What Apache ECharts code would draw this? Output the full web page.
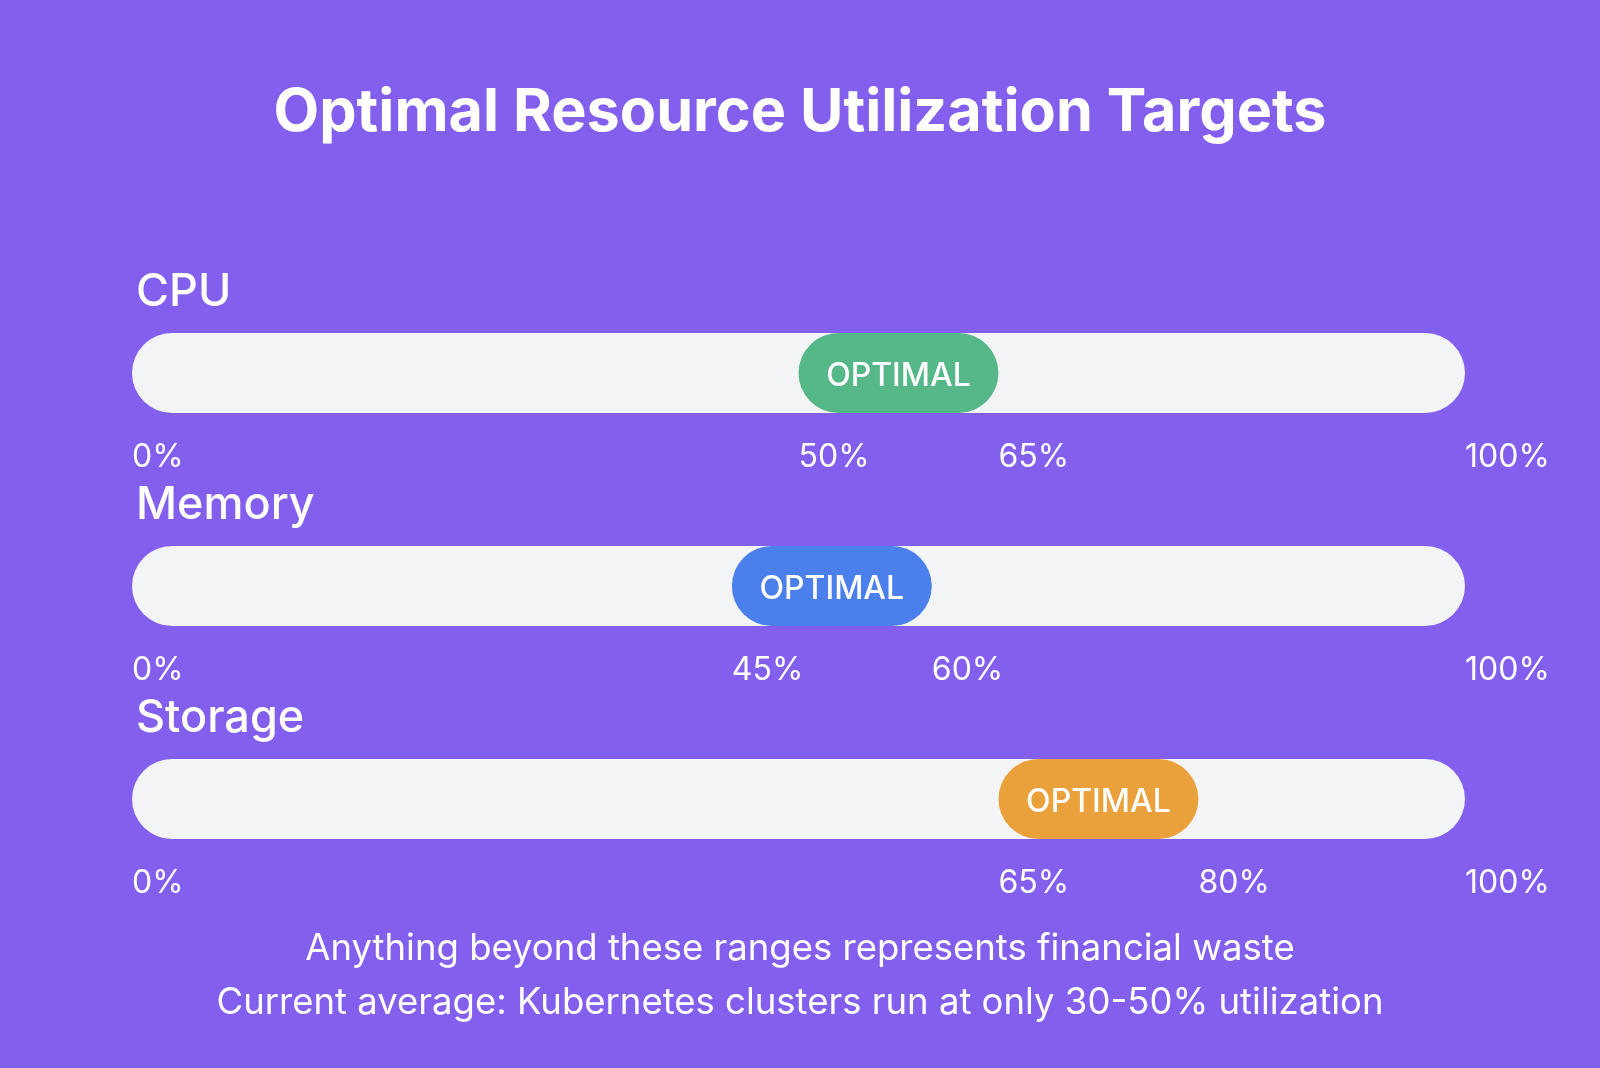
<!DOCTYPE html>
<html>
<head>
<meta charset="utf-8">
<title>Optimal Resource Utilization Targets</title>
<script src="https://cdn.jsdelivr.net/npm/echarts@6.0.0/dist/echarts.min.js"></script>
<style>
  html, body { margin: 0; padding: 0; background: #835FEE; }
  #chart { width: 1600px; height: 1068px; }
</style>
</head>
<body>
<div id="chart"></div>
<script>
// resources and their optimal utilization ranges (%)
const resources = ["CPU", "Memory", "Storage"];
const rangeMin = [50, 45, 65];
const rangeMax = [65, 60, 80];
const rangeColors = ["#56B789", "#4A7FEC", "#EAA03B"];
const bandLabel = "OPTIMAL";
const notes = [
  "Anything beyond these ranges represents financial waste",
  "Current average: Kubernetes clusters run at only 30-50% utilization"
];

const font = "Inter, 'Noto Sans', sans-serif";
const gridTops = [333, 546, 759];

const chart = echarts.init(document.getElementById("chart"));

const grids = [], xAxes = [], yAxes = [], series = [];
const titles = [{
  text: "Optimal Resource Utilization Targets",
  left: "center",
  top: 79,
  textStyle: { color: "#fff", fontSize: 59.3, fontWeight: "bold", fontFamily: font }
}];

resources.forEach((name, i) => {
  grids.push({ left: 132, right: 135, top: gridTops[i], height: 80 });
  xAxes.push({
    type: "value", gridIndex: i, min: 0, max: 100,
    splitLine: { show: false }, axisLine: { show: false }, axisTick: { show: false },
    axisLabel: {
      customValues: [0, rangeMin[i], rangeMax[i], 100],
      formatter: "{value}%",
      align: "left",
      margin: 28,
      color: "#fff", fontSize: 32, fontFamily: font
    }
  });
  yAxes.push({ type: "category", gridIndex: i, data: [name], show: false });

  titles.push({
    text: name,
    left: 131,
    top: gridTops[i] - 68,
    textStyle: { color: "#fff", fontSize: 45, fontWeight: 500, fontFamily: font }
  });

  // offset up to the start of the range, with the track as its background
  series.push({
    type: "bar", xAxisIndex: i, yAxisIndex: i, stack: "r" + i,
    barWidth: 80, silent: true,
    data: [rangeMin[i]],
    itemStyle: { color: "transparent" },
    showBackground: true,
    backgroundStyle: { color: "#F3F4F6", borderRadius: 40 }
  });
  // the optimal band
  series.push({
    type: "bar", xAxisIndex: i, yAxisIndex: i, stack: "r" + i,
    barWidth: 80, silent: true,
    data: [rangeMax[i] - rangeMin[i]],
    itemStyle: { color: rangeColors[i], borderRadius: 40 },
    label: {
      show: true, position: "inside", formatter: bandLabel, offset: [0, 3],
      color: "#fff", fontSize: 32, fontWeight: 500, fontFamily: font
    }
  });
});

notes.forEach((t, k) => {
  titles.push({
    text: t,
    left: "center",
    top: 926 + k * 54,
    textStyle: { color: "#fff", fontSize: 36.5, fontWeight: "normal", fontFamily: font }
  });
});

chart.setOption({
  backgroundColor: "#835FEE",
  animation: false,
  title: titles,
  grid: grids,
  xAxis: xAxes,
  yAxis: yAxes,
  series: series
});
</script>
</body>
</html>
